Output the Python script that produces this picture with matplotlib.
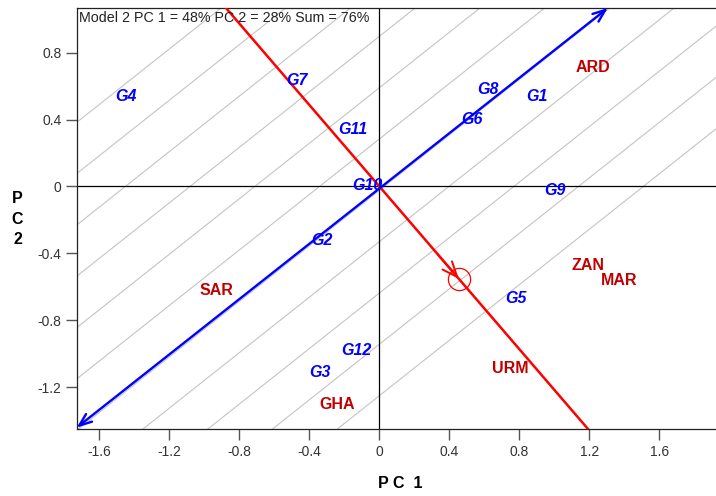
import numpy as np
import matplotlib
matplotlib.use("Agg")
import matplotlib.pyplot as plt

plt.rcParams['font.family'] = ['Liberation Sans', 'DejaVu Sans']

# genotype labels (blue) and their biplot coordinates
gen_names = ['G1', 'G2', 'G3', 'G4', 'G5', 'G6', 'G7', 'G8', 'G9', 'G10', 'G11', 'G12']
gen_x = [0.90, -0.33, -0.34, -1.45, 0.78, 0.53, -0.47, 0.62, 1.00, -0.07, -0.155, -0.13]
gen_y = [0.54, -0.32, -1.11, 0.54, -0.67, 0.40, 0.63, 0.58, -0.025, 0.005, 0.34, -0.98]

# environment labels (red)
env_names = ['ARD', 'SAR', 'GHA', 'ZAN', 'MAR', 'URM']
env_x = [1.22, -0.93, -0.24, 1.19, 1.37, 0.75]
env_y = [0.71, -0.62, -1.30, -0.47, -0.56, -1.085]

# average environment axis (blue) and its perpendicular (red)
aea_start = (-1.73, -1.44)
aea_end = (1.305, 1.066)
ort_start = (-0.877, 1.066)
ort_end = (1.193, -1.45)
avg_env = (0.454, -0.552)

# parallel grey guide lines: y = slope * x + b
guide_slope = 0.8285
guide_b = [-1.249, -0.942, -0.636, -0.329, -0.023, 0.284, 0.590, 0.897, 1.203, 1.510, 1.816]

xlim = (-1.73, 1.923)
ylim = (-1.45, 1.066)

fig = plt.figure(figsize=(7.16, 4.96), dpi=100)
ax = fig.add_axes([0.1071, 0.1345, 0.8929, 0.8494])

xx = np.array(xlim)
for b in guide_b:
    ax.plot(xx, guide_slope * xx + b, color='#c4c4c4', lw=0.8, zorder=1)

ax.axhline(0, color='black', lw=0.9, zorder=2)
ax.axvline(0, color='black', lw=0.9, zorder=2)

ax.plot([ort_start[0], ort_end[0]], [ort_start[1], ort_end[1]], color='red', lw=1.8, zorder=3)
ax.annotate('', xy=aea_end, xytext=aea_start,
            arrowprops=dict(arrowstyle='<->,head_length=0.9,head_width=0.35',
                            color='#0000ff', lw=1.7, shrinkA=0, shrinkB=0), zorder=4)

# average environment marker with arrow
ax.plot(avg_env[0], avg_env[1], 'o', ms=16, mfc='none', mec='red', mew=0.9, zorder=5)
ax.annotate('', xy=avg_env, xytext=(avg_env[0] - 0.12, avg_env[1] + 0.145),
            arrowprops=dict(arrowstyle='->,head_length=1.1,head_width=0.45',
                            color='red', lw=1.4, shrinkA=0, shrinkB=0), zorder=5)

for n, x, y in zip(gen_names, gen_x, gen_y):
    ax.text(x, y, n, color='#0000ff', fontsize=11.5, fontweight='bold', fontstyle='italic',
            ha='center', va='center', zorder=6)
for n, x, y in zip(env_names, env_x, env_y):
    ax.text(x, y, n, color='#c00000', fontsize=11.5, fontweight='bold',
            ha='center', va='center', zorder=6)

ax.text(0.003, 0.993, 'Model 2 PC 1 = 48% PC 2 = 28% Sum = 76%', transform=ax.transAxes,
        fontsize=10.3, color='#222222', ha='left', va='top', zorder=7)

ax.set_xlim(xlim)
ax.set_ylim(ylim)
ax.set_xticks(np.arange(-1.6, 1.61, 0.4))
ax.set_xticklabels(['-1.6', '-1.2', '-0.8', '-0.4', '0', '0.4', '0.8', '1.2', '1.6'])
ax.set_yticks(np.arange(-1.2, 0.81, 0.4))
ax.set_yticklabels(['-1.2', '-0.8', '-0.4', '0', '0.4', '0.8'])
ax.tick_params(direction='out', length=8, width=1, color='#555555', labelcolor='#333333',
               labelsize=10, pad=3)
ax.spines['right'].set_visible(False)
for s in ['top', 'left', 'bottom']:
    ax.spines[s].set_color('#222222')
    ax.spines[s].set_linewidth(0.9)

fig.text(400 / 716, 1 - 483 / 496, 'P C  1', fontsize=11.5, fontweight='bold', ha='center', va='center')
for i, ch in enumerate(['P', 'C', '2']):
    fig.text(17.5 / 716, 1 - (199 + 20 * i) / 496, ch, fontsize=11.5, fontweight='bold',
             ha='center', va='center')

fig.savefig('out.png', dpi=100)
